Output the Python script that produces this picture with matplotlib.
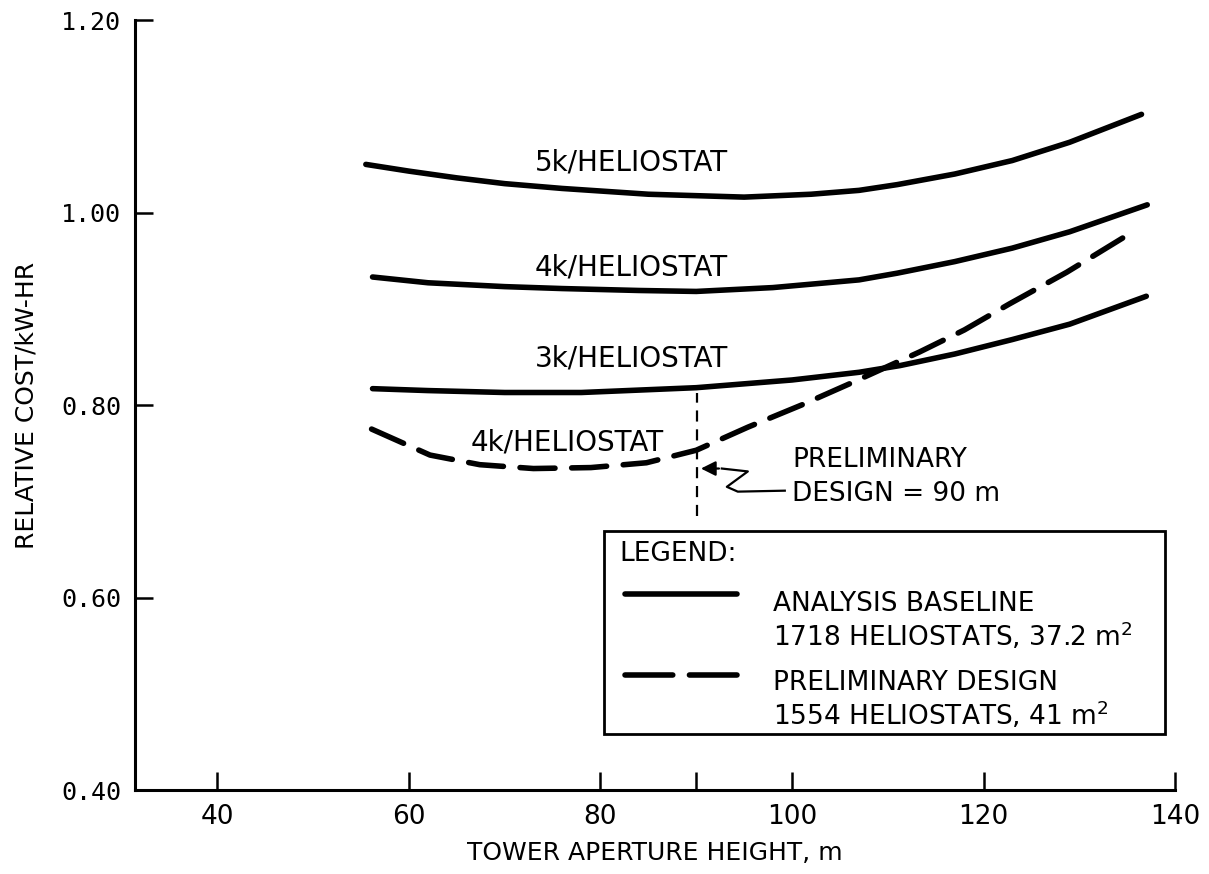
import matplotlib
matplotlib.use("Agg")
import matplotlib.pyplot as plt
import numpy as np

# curves (tower aperture height m, relative cost/kW-hr)
x_5k = [55.5, 60, 65, 70, 76, 85, 95, 102, 107, 111, 117, 123, 129, 136.5]
y_5k = [1.050, 1.043, 1.036, 1.030, 1.025, 1.019, 1.016, 1.019, 1.023, 1.029, 1.040, 1.054, 1.073, 1.102]

x_4k = [56.2, 62, 70, 76, 84, 90, 98, 107, 111, 117, 123, 129, 137.1]
y_4k = [0.933, 0.927, 0.923, 0.921, 0.919, 0.918, 0.922, 0.930, 0.937, 0.949, 0.963, 0.980, 1.008]

x_3k = [56.2, 62, 70, 78, 90, 100, 107, 111.3, 117, 123, 129, 137]
y_3k = [0.817, 0.815, 0.813, 0.813, 0.818, 0.826, 0.834, 0.841, 0.853, 0.868, 0.884, 0.913]

x_pre = [56.1, 62.2, 67.4, 73, 79, 84.8, 90, 95.4, 101, 106, 113.3, 118, 122.7, 128.7, 135.6]
y_pre = [0.775, 0.748, 0.738, 0.734, 0.735, 0.740, 0.753, 0.777, 0.800, 0.822, 0.855, 0.878, 0.905, 0.938, 0.980]

curve_labels = ["5k/HELIOSTAT", "4k/HELIOSTAT", "3k/HELIOSTAT", "4k/HELIOSTAT"]
label_xy = [(83.2, 1.052), (83.2, 0.943), (83.2, 0.848), (76.5, 0.761)]

design_x = 90.1
xticks = [40, 60, 80, 90, 100, 120, 140]
xticklabels = ["40", "60", "80", "", "100", "120", "140"]
yticks = [0.40, 0.60, 0.80, 1.00, 1.20]

sans = ["DejaVu Sans"]
mono = ["DejaVu Sans Mono"]

fig = plt.figure(figsize=(12.09, 8.74), dpi=100)
ax = fig.add_axes([0.1117, 0.0961, 0.8602, 0.8810])

lw = 4.0
pre_dash = (6.3, 3.0)
for xs, ys in [(x_5k, y_5k), (x_4k, y_4k), (x_3k, y_3k)]:
    ax.plot(xs, ys, color="black", lw=lw, solid_capstyle="round", solid_joinstyle="round")
ax.plot(x_pre, y_pre, color="black", lw=lw, dashes=pre_dash, dash_capstyle="round")

for txt, (tx, ty) in zip(curve_labels, label_xy):
    ax.text(tx, ty, txt, ha="center", va="center", fontsize=20, family=sans)

# preliminary design marker + squiggly pointer
ax.plot([design_x, design_x], [0.685, 0.812], color="black", lw=1.6, dashes=(5, 3.5))
squig_x = [92.67, 95.39, 93.2, 94.34, 99.25]
squig_y = [0.734, 0.731, 0.715, 0.710, 0.711]
ax.plot(squig_x, squig_y, color="black", lw=1.6)
ax.annotate("", xy=(design_x + 0.1, 0.734), xytext=(squig_x[0], squig_y[0]),
            arrowprops=dict(arrowstyle="-|>", color="black", lw=1.6, mutation_scale=22))
ax.text(100.0, 0.743, "PRELIMINARY", ha="left", va="center", fontsize=19, family=sans)
ax.text(100.0, 0.708, "DESIGN = 90 m", ha="left", va="center", fontsize=19, family=sans)

# legend box
box = plt.Rectangle((80.4, 0.458), 58.6, 0.211, fill=False, lw=2.0, ec="black")
ax.add_patch(box)
ax.text(82.0, 0.645, "LEGEND:", ha="left", va="center", fontsize=19, family=sans)
ax.plot([82.55, 94.3], [0.604, 0.604], color="black", lw=lw, solid_capstyle="round")
ax.plot([82.55, 94.3], [0.519, 0.519], color="black", lw=lw, dashes=(8.6, 3.0), dash_capstyle="round")
ax.text(98.0, 0.593, "ANALYSIS BASELINE", ha="left", va="center", fontsize=19, family=sans)
ax.text(98.0, 0.560, "1718 HELIOSTATS, 37.2 m$^2$", ha="left", va="center", fontsize=19, family=sans)
ax.text(98.0, 0.511, "PRELIMINARY DESIGN", ha="left", va="center", fontsize=19, family=sans)
ax.text(98.0, 0.478, "1554 HELIOSTATS, 41 m$^2$", ha="left", va="center", fontsize=19, family=sans)

ax.set_xlim(31.4, 140)
ax.set_ylim(0.40, 1.20)
ax.spines["top"].set_visible(False)
ax.spines["right"].set_visible(False)
ax.spines["left"].set_linewidth(2.2)
ax.spines["bottom"].set_linewidth(2.2)
ax.spines["left"].set_capstyle("projecting")
ax.spines["bottom"].set_capstyle("projecting")

ax.set_xticks(xticks)
ax.set_xticklabels(xticklabels, fontsize=19, family=sans)
ax.set_yticks(yticks)
ax.set_yticklabels(["%.2f" % v for v in yticks], fontsize=18, family=mono)
ax.tick_params(axis="both", direction="in", length=13, width=1.8, pad=10)

ax.set_xlabel("TOWER APERTURE HEIGHT, m", fontsize=18, family=sans, labelpad=8)
ax.set_ylabel("RELATIVE COST/kW-HR", fontsize=18, family=sans, labelpad=16)

fig.savefig("out.png", dpi=100)
